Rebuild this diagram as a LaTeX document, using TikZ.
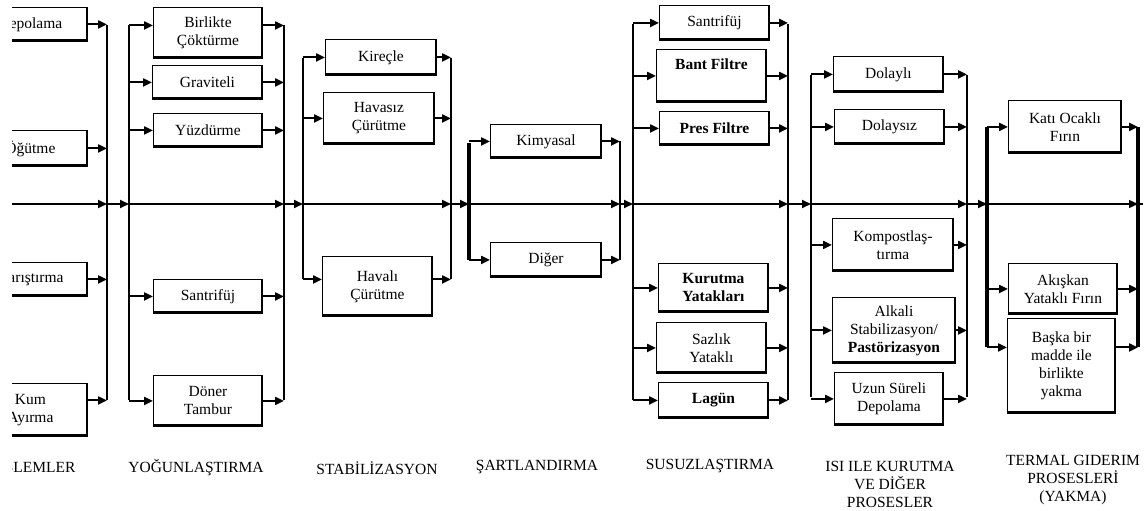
\documentclass[tikz,border=0pt]{standalone}
\usepackage{fontspec}
\setmainfont{Liberation Serif}
\usetikzlibrary{arrows.meta,calc}
\newcommand{\bxfont}{\fontsize{15.5}{18}\selectfont}
\begin{document}
\begin{tikzpicture}[x=1pt,y=-1pt,
  box/.style={draw, line width=0.9pt, inner sep=1pt, align=center, anchor=north west, font=\bxfont,
    path picture={
      \draw[line width=4pt] (path picture bounding box.south west) -- (path picture bounding box.south east);
      \draw[line width=2.6pt] (path picture bounding box.south east) -- (path picture bounding box.north east);}},
  arr/.style={line width=2pt, -{Triangle[length=9pt,width=8pt]}},
  mainarr/.style={line width=1.8pt, -{Triangle[length=9pt,width=8pt]}},
  bus/.style={line width=2.6pt},
  heavybus/.style={line width=3.6pt},
  lbl/.style={font=\bxfont, align=center}
]
\useasboundingbox (0,0) rectangle (1146,511);
\begin{scope}
\clip (12,-5) rectangle (1150,520);

% ---------- bus coordinates ----------
\coordinate (k1t) at (107,25);  \coordinate (k1b) at (107,400);
\coordinate (s2t) at (129,25);  \coordinate (s2b) at (129,400);
\coordinate (k2t) at (284,25);  \coordinate (k2b) at (284,400);
\coordinate (s3t) at (303,58);  \coordinate (s3b) at (303,279);
\coordinate (k3t) at (451,58);  \coordinate (k3b) at (451,279);
\coordinate (s4t) at (469,143); \coordinate (s4b) at (469,260);
\coordinate (k4t) at (620,141); \coordinate (k4b) at (620,260);
\coordinate (s5t) at (633,24);  \coordinate (s5b) at (633,400);
\coordinate (k5t) at (788,24);  \coordinate (k5b) at (788,400);
\coordinate (s6t) at (811,75);  \coordinate (s6b) at (811,397);
\coordinate (k6t) at (967,75);  \coordinate (k6b) at (967,397);
\coordinate (s7t) at (987,127); \coordinate (s7b) at (987,347);
\coordinate (k7t) at (1138,127);\coordinate (k7b) at (1138,347);
\coordinate (m0) at (0,204);
\coordinate (mend) at (1143,204);

\draw[bus] (k1t) -- (k1b);
\draw[bus] (s2t) -- (s2b);
\draw[bus] (k2t) -- (k2b);
\draw[bus] (s3t) -- (s3b);
\draw[bus] (k3t) -- (k3b);
\draw[heavybus] (s4t) -- (s4b);
\draw[bus] (k4t) -- (k4b);
\draw[bus] (s5t) -- (s5b);
\draw[bus] (k5t) -- (k5b);
\draw[bus] (s6t) -- (s6b);
\draw[bus] (k6t) -- (k6b);
\draw[heavybus] (s7t) -- (s7b);
\draw[heavybus] (k7t) -- (k7b);

% ---------- boxes ----------
% column 1
\node[box, minimum width=114, minimum height=34] (a1) at (-27,7)   {Depolama};
\node[box, minimum width=114, minimum height=36] (a2) at (-27,130) {Öğütme};
\node[box, minimum width=114, minimum height=34] (a3) at (-27,262) {Karıştırma};
\node[box, minimum width=114, minimum height=53] (a4) at (-27,383) {Kum\\Ayırma};
% column 2
\node[box, minimum width=109, minimum height=51] (b1) at (153,7)   {Birlikte\\Çöktürme};
\node[box, minimum width=110, minimum height=34] (b2) at (152,65)  {Graviteli};
\node[box, minimum width=109, minimum height=34] (b3) at (153,113) {Yüzdürme};
\node[box, minimum width=109, minimum height=34] (b4) at (153,279) {Santrifüj};
\node[box, minimum width=109, minimum height=51] (b5) at (153,375) {Döner\\Tambur};
% column 3
\node[box, minimum width=111, minimum height=36] (c1) at (325,39)  {Kireçle};
\node[box, minimum width=111, minimum height=52] (c2) at (323,92)  {Havasız\\Çürütme};
\node[box, minimum width=110, minimum height=60] (c3) at (322,256) {Havalı\\Çürütme};
% column 4
\node[box, minimum width=111, minimum height=34] (d1) at (490,124) {Kimyasal};
\node[box, minimum width=111, minimum height=35] (d2) at (490,242) {Diğer};
% column 5
\node[box, minimum width=110, minimum height=35] (e1) at (659,5)   {Santrifüj};
\node[box, minimum width=110, minimum height=53] (e2) at (656,49)  {\textbf{Bant Filtre}\\ \strut};
\node[box, minimum width=110, minimum height=34] (e3) at (659,111) {\textbf{Pres Filtre}};
\node[box, minimum width=110, minimum height=49] (e4) at (658,263) {\textbf{Kurutma}\\\textbf{Yatakları}};
\node[box, minimum width=110, minimum height=51] (e5) at (656,322) {Sazlık\\Yataklı};
\node[box, minimum width=110, minimum height=36] (e6) at (658,382) {\textbf{Lagün}};
% column 6
\node[box, minimum width=110, minimum height=36] (f1) at (833,56)  {Dolaylı};
\node[box, minimum width=110, minimum height=35] (f2) at (834,109) {Dolaysız};
\node[box, minimum width=121, minimum height=53] (f3) at (832,218) {Kompostlaş-\\tırma};
\node[box, minimum width=123, minimum height=66] (f4) at (832,297) {Alkali\\Stabilizasyon/\\\textbf{Pastörizasyon}};
\node[box, minimum width=109, minimum height=53] (f5) at (834,372) {Uzun Süreli\\Depolama};
% column 7
\node[box, minimum width=113, minimum height=53] (g1) at (1008,100) {Katı Ocaklı\\Fırın};
\node[box, minimum width=109, minimum height=51] (g2) at (1008,263) {Akışkan\\Yataklı Fırın};
\node[box, minimum width=108, minimum height=95] (g3) at (1007,318) {Başka bir\\madde ile\\birlikte\\yakma};

% ---------- connectors ----------
% column 1 -> collector
\draw[arr] (a1.east) -- (a1.east -| k1t);
\draw[arr] (a2.east) -- (a2.east -| k1t);
\draw[arr] (a3.east) -- (a3.east -| k1t);
\draw[arr] ([yshift=9.5pt]a4.east) -- ([yshift=9.5pt]a4.east -| k1t);
% column 2
\foreach \b in {b2,b3,b4,b5}{
  \draw[arr] (\b.west -| s2t) -- (\b.west);
  \draw[arr] (\b.east) -- (\b.east -| k2t);
}
\draw[arr] ([yshift=7.5pt]b1.west -| s2t) -- ([yshift=7.5pt]b1.west);
\draw[arr] ([yshift=7.5pt]b1.east) -- ([yshift=7.5pt]b1.east -| k2t);
% column 3
\foreach \b in {c1,c2}{
  \draw[arr] (\b.west -| s3t) -- (\b.west);
  \draw[arr] (\b.east) -- (\b.east -| k3t);
}
\draw[arr] ([yshift=7pt]c3.west -| s3t) -- ([yshift=7pt]c3.west);
\draw[arr] ([yshift=7pt]c3.east) -- ([yshift=7pt]c3.east -| k3t);
% column 4
\foreach \b in {d1,d2}{
  \draw[arr] (\b.west -| s4t) -- (\b.west);
  \draw[arr] (\b.east) -- (\b.east -| k4t);
}
% column 5
\foreach \b in {e1,e2,e3,e4,e5,e6}{
  \draw[arr] (\b.west -| s5t) -- (\b.west);
  \draw[arr] (\b.east) -- (\b.east -| k5t);
}
% column 6
\foreach \b in {f1,f2,f3,f4,f5}{
  \draw[arr] (\b.west -| s6t) -- (\b.west);
  \draw[arr] (\b.east) -- (\b.east -| k6t);
}
% column 7
\foreach \b in {g1,g2}{
  \draw[arr] (\b.west -| s7t) -- (\b.west);
  \draw[arr] (\b.east) -- (\b.east -| k7t);
}
\draw[arr] ([yshift=18.5pt]g3.west -| s7t) -- ([yshift=18.5pt]g3.west);
\draw[arr] ([yshift=18.5pt]g3.east) -- ([yshift=18.5pt]g3.east -| k7t);

% ---------- main line ----------
\draw[mainarr] (m0) -- (m0 -| k1t);
\draw[mainarr] (m0 -| k1t) -- (m0 -| s2t);
\draw[mainarr] (m0 -| s2t) -- (m0 -| k2t);
\draw[mainarr] (m0 -| k2t) -- (m0 -| s3t);
\draw[mainarr] (m0 -| s3t) -- (m0 -| k3t);
\draw[mainarr] (m0 -| k3t) -- (m0 -| s4t);
\draw[mainarr] (m0 -| s4t) -- (m0 -| k4t);
\draw[mainarr] (m0 -| k4t) -- (m0 -| s5t);
\draw[mainarr] (m0 -| s5t) -- (m0 -| k5t);
\draw[mainarr] (m0 -| k5t) -- (m0 -| s6t);
\draw[mainarr] (m0 -| s6t) -- (m0 -| k6t);
\draw[mainarr] (m0 -| k6t) -- (m0 -| s7t);
\draw[mainarr, line width=1.3pt] (m0 -| s7t) -- (m0 -| k7t);
\draw[line width=1.3pt] (m0 -| k7t) -- (mend);

% ---------- stage labels ----------
\node[lbl, anchor=east] (l1) at (79,468) {ÖN İŞLEMLER};
\node[lbl] (l2) at (196,468) {YOĞUNLAŞTIRMA};
\node[lbl] (l3) at (377,468) {STABİLİZASYON};
\node[lbl] (l4) at (537,467) {ŞARTLANDIRMA};
\node[lbl] (l5) at (710,466) {SUSUZLAŞTIRMA};
\node[lbl] (l6) at (890,484) {ISI ILE KURUTMA\\VE DİĞER\\PROSESLER};
\node[lbl] (l7) at (1073,480) {TERMAL GIDERIM\\PROSESLERİ\\(YAKMA)};
\end{scope}
\end{tikzpicture}
\end{document}
